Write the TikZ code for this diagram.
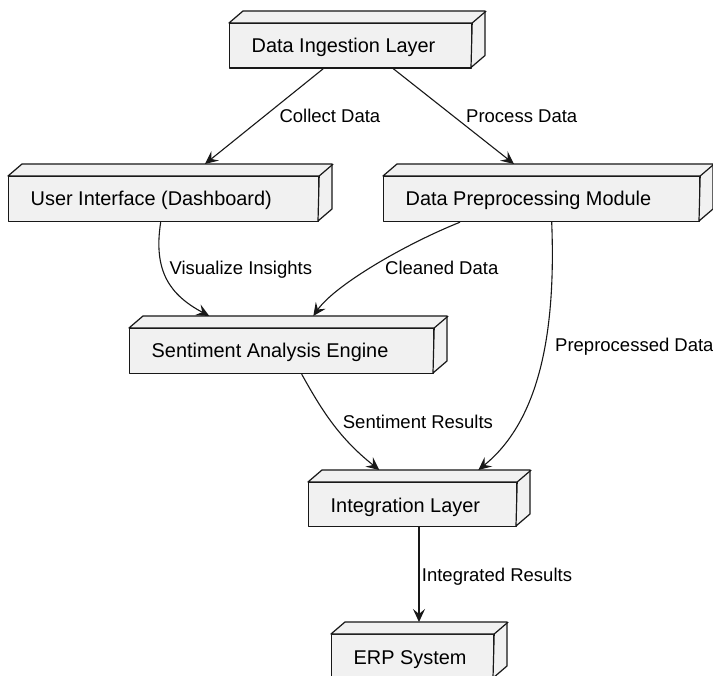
\documentclass[tikz,border=0pt]{standalone}
\usepackage{fontspec}
\setmainfont{Liberation Sans}
\usetikzlibrary{arrows.meta}
\definecolor{boxfill}{HTML}{F1F1F1}
\definecolor{linec}{HTML}{181818}
\newcommand\nodefnt{\fontsize{19.9}{24}\selectfont}
\newcommand\edgefnt{\fontsize{18.5}{22}\selectfont}
\tikzset{
  frontbox/.style={draw=linec, fill=boxfill, line width=1.2pt, inner sep=0pt, anchor=north west, line join=round},
  face/.style={draw=linec, fill=boxfill, line width=1.2pt, line join=round},
  ntext/.style={font=\nodefnt, anchor=base west, inner sep=0pt, text=black},
  elabel/.style={font=\edgefnt, anchor=base west, inner sep=0pt, text=black},
  conn/.style={draw=linec, line width=1.1pt, -{Stealth[length=13pt,width=12pt,inset=5pt]}},
}
% #1 name, #2 x, #3 y, #4 width, #5 height, #6 text
\newcommand\tdbox[6]{%
  \node[frontbox, minimum width=#4pt, minimum height=#5pt] (#1) at (#2,#3) {};
  \draw[face] (#1.north west) -- ++(14,-12) -- ++(#4,0) -- ++(0,#5) -- ++(-14,12) -- (#1.north east) -- cycle;
  \draw[face] (#1.north east) -- ++(14,-12);
  \node[ntext] (#1-t) at ([xshift=22.5pt,yshift=-30pt]#1.north west) {#6};
}
\begin{document}
\begin{tikzpicture}[x=1pt,y=-1pt]
\fill[white] (0,0) rectangle (713,676);
\useasboundingbox (0,0) rectangle (713,676);

\tdbox{di}{229}{23}{242}{44.5}{Data Ingestion Layer}
\tdbox{ui}{8}{176}{310}{45}{User Interface (Dashboard)}
\tdbox{dpm}{383}{176}{316}{45}{Data Preprocessing Module}
\tdbox{sae}{129}{328}{304}{45}{Sentiment Analysis Engine}
\tdbox{il}{308}{482}{208}{44}{Integration Layer}
\tdbox{erp}{331}{634}{162}{44}{ERP System}

% connectors
\draw[conn] ([xshift=94.3pt]di.south west) -- ([xshift=197pt,yshift=12pt]ui.north west);
\draw[conn] ([xshift=164.3pt]di.south west) -- ([xshift=131pt,yshift=12pt]dpm.north west);
\draw[conn] ([xshift=152.7pt]ui.south west) .. controls +(-7.7,49) and +(-39.3,-21) .. ([xshift=80.3pt,yshift=12pt]sae.north west);
\draw[conn] ([xshift=77pt]dpm.south west) .. controls +(-55,22) and +(21.7,-31) .. ([xshift=184.3pt,yshift=12pt]sae.north west);
\draw[conn] ([xshift=168.7pt]dpm.south west) .. controls +(4.3,109) and +(61.7,-50) .. ([xshift=170.3pt,yshift=12pt]il.north west);
\draw[conn] ([xshift=172.7pt]sae.south west) .. controls +(20,36) and +(-40.3,-32) .. ([xshift=71.3pt,yshift=12pt]il.north west);
\draw[conn] ([xshift=111pt]il.south west) -- ([xshift=88pt,yshift=12pt]erp.north west);

% labels
\node[elabel] (l1) at (279.3,122.7) {Collect Data};
\node[elabel] (l2) at (466,122.7) {Process Data};
\node[elabel] (l3) at (169.3,275) {Visualize Insights};
\node[elabel] (l4) at (385,275) {Cleaned Data};
\node[elabel] (l5) at (555,352) {Preprocessed Data};
\node[elabel] (l6) at (342.7,428.3) {Sentiment Results};
\node[elabel] (l7) at (421.7,581.7) {Integrated Results};
\end{tikzpicture}
\end{document}
